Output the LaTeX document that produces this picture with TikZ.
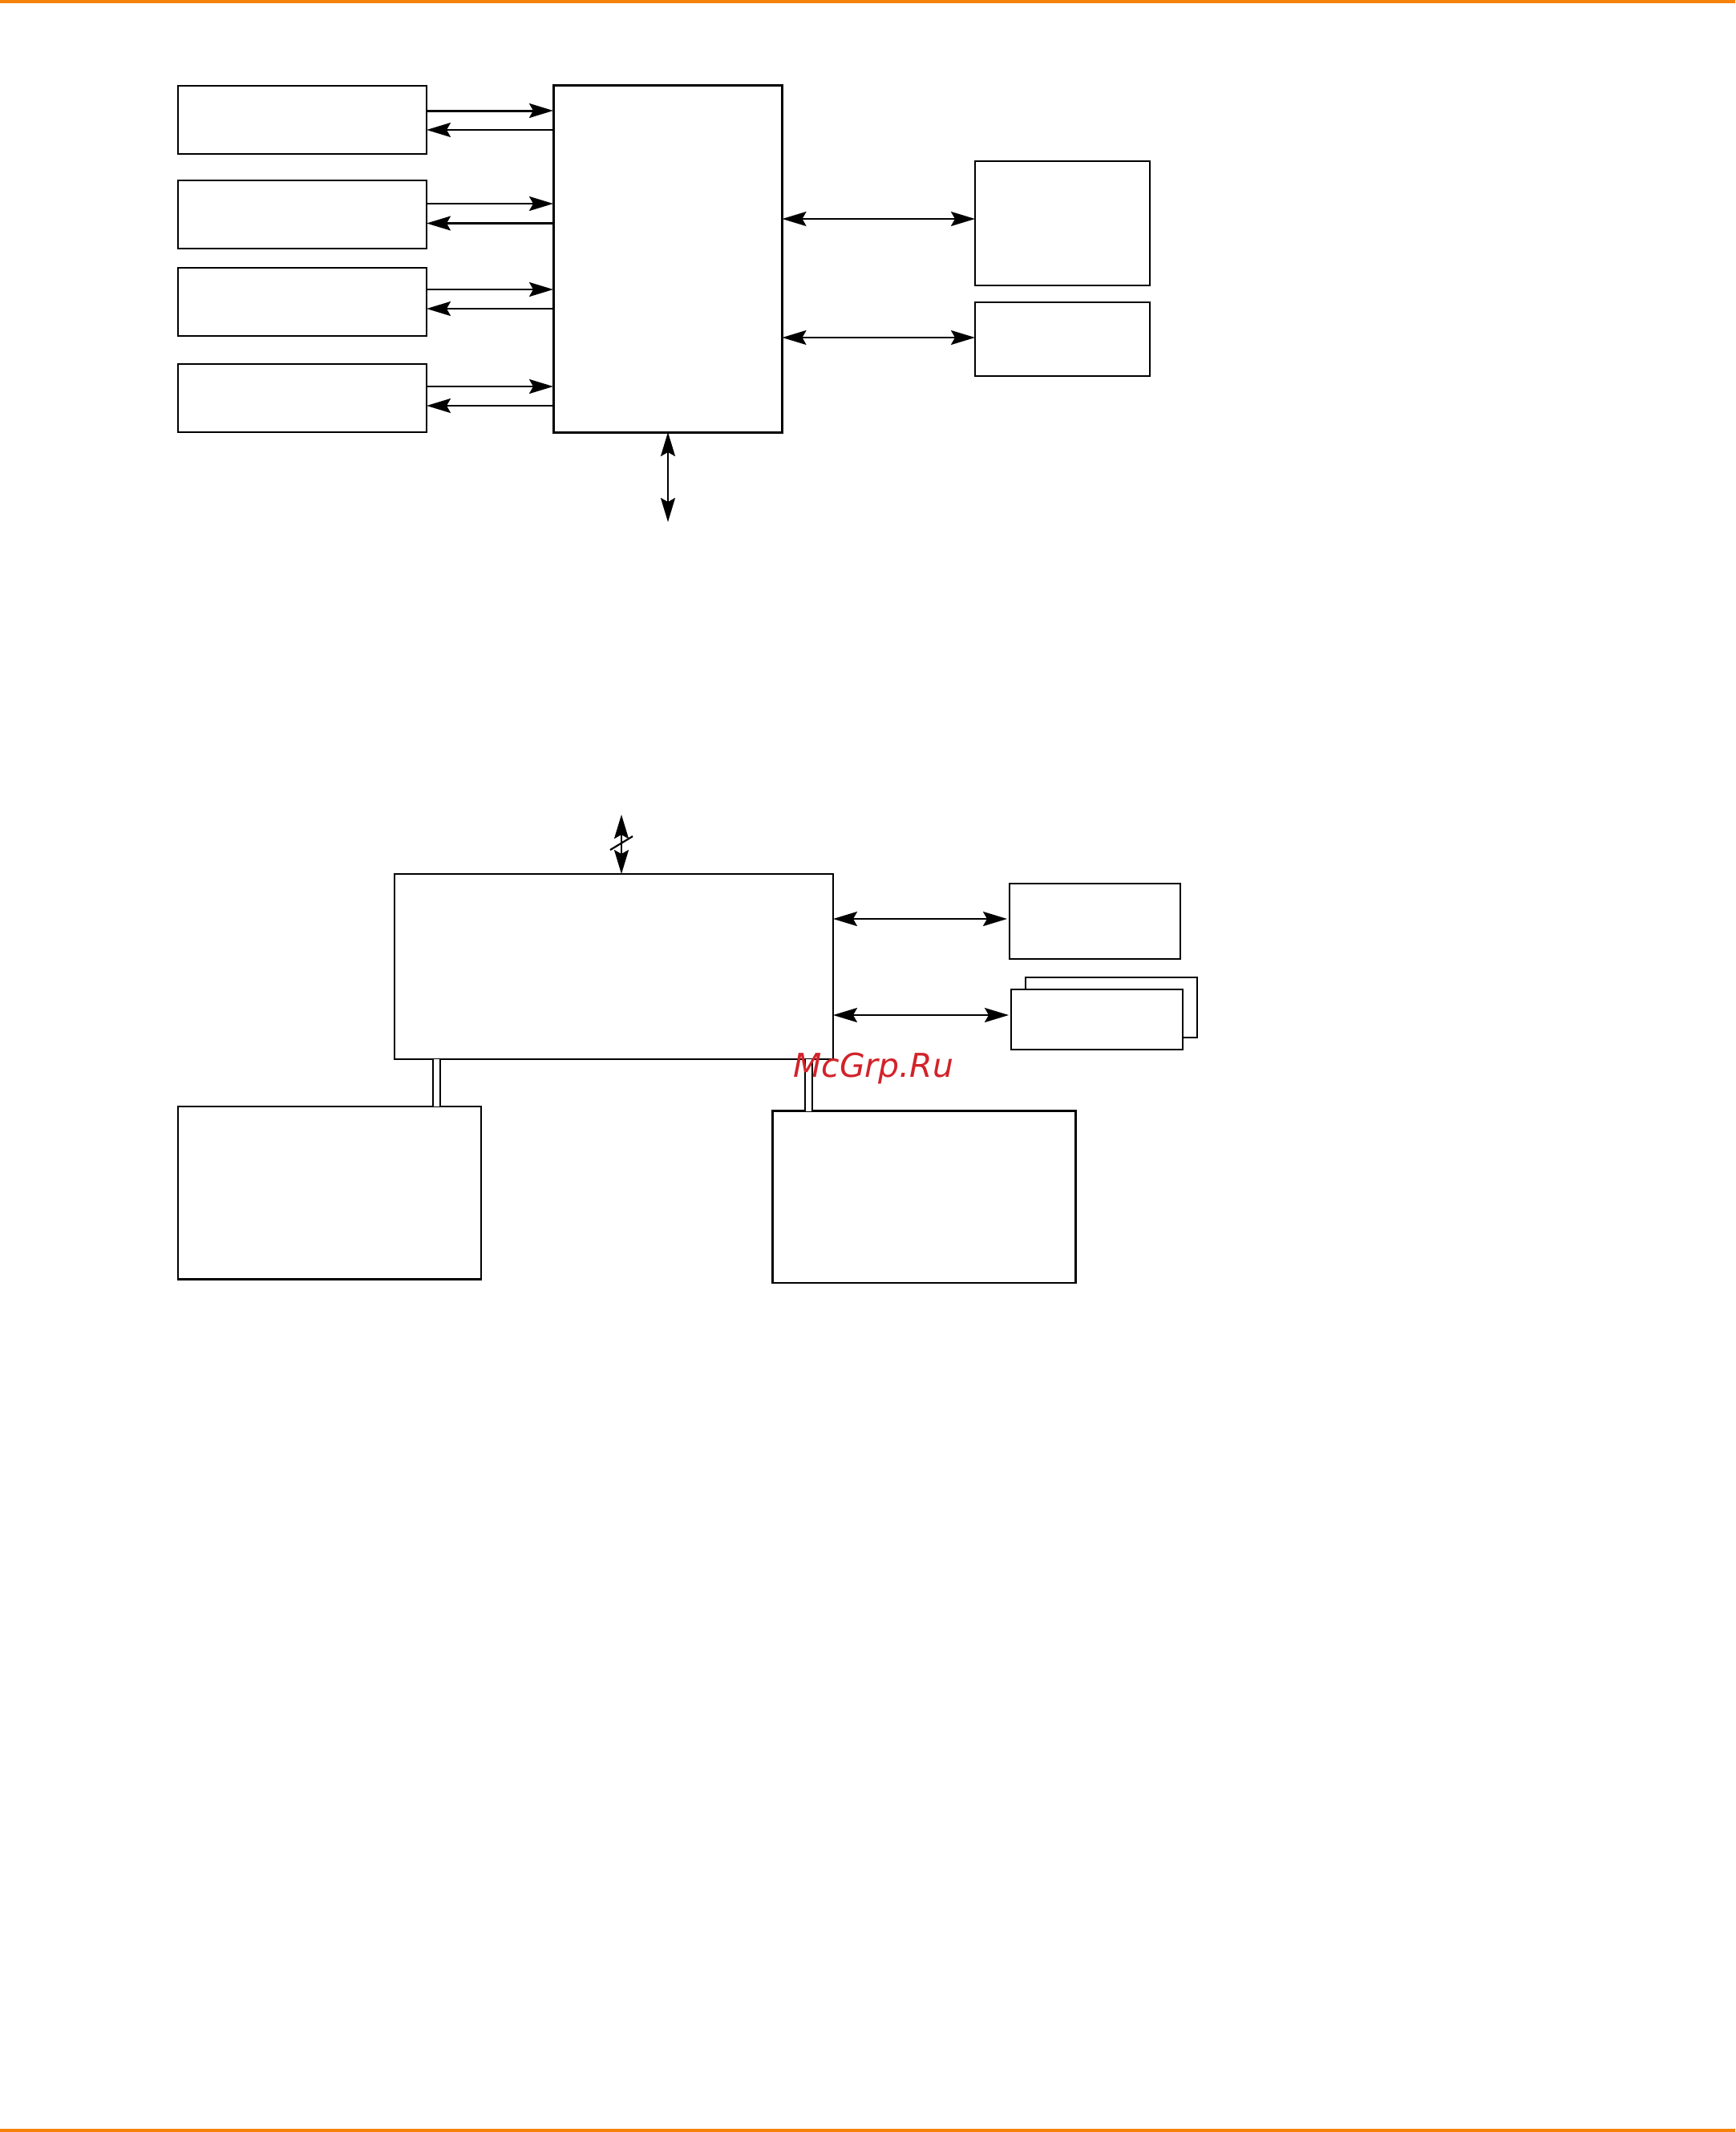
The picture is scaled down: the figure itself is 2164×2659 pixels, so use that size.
\documentclass[tikz,border=0pt]{standalone}
\usepackage{fontspec}
\newfontfamily\wmfont{DejaVu Sans}
\usetikzlibrary{arrows.meta}
\definecolor{orangebar}{RGB}{245,130,10}
\definecolor{wmred}{RGB}{210,35,42}
\tikzset{
  box/.style={draw=black, fill=white, line width=2.8pt, inner sep=0pt, outer sep=0pt},
  conn/.style={line width=2.3pt, draw=black},
  tip/.tip={Stealth[length=30pt, width=18pt, inset=5pt]},
  oneway/.style={conn, -{tip}},
  twoway/.style={conn, {tip}-{tip}},
  bus/.style={draw=black, line width=2.2pt, double=white, double distance=6.3pt}
}
\begin{document}
\begin{tikzpicture}[x=1pt, y=-1pt]
\useasboundingbox (0,0) rectangle (2164,2659);
% orange rules
\fill[orangebar] (0,0) rectangle (2164,4);
\fill[orangebar] (0,2655) rectangle (2164,2659);

% ---------- upper diagram ----------
\node[box, minimum width=310pt, minimum height=85pt] (b1) at (377,149.5) {};
\node[box, minimum width=310pt, minimum height=85pt] (b2) at (377,267.5) {};
\node[box, minimum width=310pt, minimum height=85pt] (b3) at (377,376.5) {};
\node[box, minimum width=310pt, minimum height=85pt] (b4) at (377,496.5) {};
\node[box, line width=3pt, minimum width=285.5pt, minimum height=433pt] (cpu) at (832.75,322.5) {};
\node[box, minimum width=218pt, minimum height=155pt] (ra) at (1325,278.5) {};
\node[box, minimum width=218pt, minimum height=92pt] (rb) at (1325,423) {};

\coordinate (y1a) at (0,138);   \coordinate (y1b) at (0,162);
\coordinate (y2a) at (0,254);   \coordinate (y2b) at (0,278.5);
\coordinate (y3a) at (0,361);   \coordinate (y3b) at (0,385);
\coordinate (y4a) at (0,482);   \coordinate (y4b) at (0,506);
\coordinate (yra) at (0,273);   \coordinate (yrb) at (0,421);
\coordinate (busend) at (833,651);

\draw[oneway, line width=3pt] (b1.east |- y1a) -- (cpu.west |- y1a);
\draw[oneway] (cpu.west |- y1b) -- (b1.east |- y1b);
\draw[oneway] (b2.east |- y2a) -- (cpu.west |- y2a);
\draw[oneway] (cpu.west |- y2b) -- (b2.east |- y2b);
\draw[oneway] (b3.east |- y3a) -- (cpu.west |- y3a);
\draw[oneway] (cpu.west |- y3b) -- (b3.east |- y3b);
\draw[oneway] (b4.east |- y4a) -- (cpu.west |- y4a);
\draw[oneway] (cpu.west |- y4b) -- (b4.east |- y4b);

\draw[twoway] (cpu.east |- yra) -- (ra.west |- yra);
\draw[twoway] (cpu.east |- yrb) -- (rb.west |- yrb);
\draw[twoway] (busend |- cpu.south) -- (busend);

% ---------- lower diagram ----------
\node[box, minimum width=547pt, minimum height=231pt] (main) at (765.5,1205.5) {};
\node[box, minimum width=213pt, minimum height=94pt] (c) at (1365.5,1149) {};
\node[box, minimum width=214pt, minimum height=75pt] (dback) at (1386,1256.5) {};
\node[box, minimum width=214pt, minimum height=75pt] (d) at (1368,1271.5) {};
\node[box, minimum width=378pt, minimum height=215.5pt] (lb) at (411,1487.75) {};
\node[box, minimum width=378pt, minimum height=214.5pt] (rbx) at (1152.5,1492.75) {};

\coordinate (toptip) at (775,1016);
\coordinate (ya) at (0,1146);
\coordinate (yb) at (0,1266);
\coordinate (xl) at (544.5,0);
\coordinate (xr) at (1008.6,0);
\coordinate (s1) at (761,1060);
\coordinate (s2) at (789,1043);

\draw[twoway] (toptip) -- (toptip |- main.north);
\draw[line width=2.2pt] (s1) -- (s2);

\draw[twoway, shorten >=3pt] (main.east |- ya) -- (c.west |- ya);
\draw[twoway, shorten >=3pt] (main.east |- yb) -- (d.west |- yb);

\draw[bus] (xl |- main.south) -- (xl |- lb.north);
\draw[bus] (xr |- main.south) -- (xr |- rbx.north);

% watermark
\node[anchor=base west, inner sep=0pt, text=wmred, font=\wmfont\itshape\fontsize{41}{42}\selectfont] (wm) at (989,1343.3) {McGrp.Ru};
\end{tikzpicture}
\end{document}
